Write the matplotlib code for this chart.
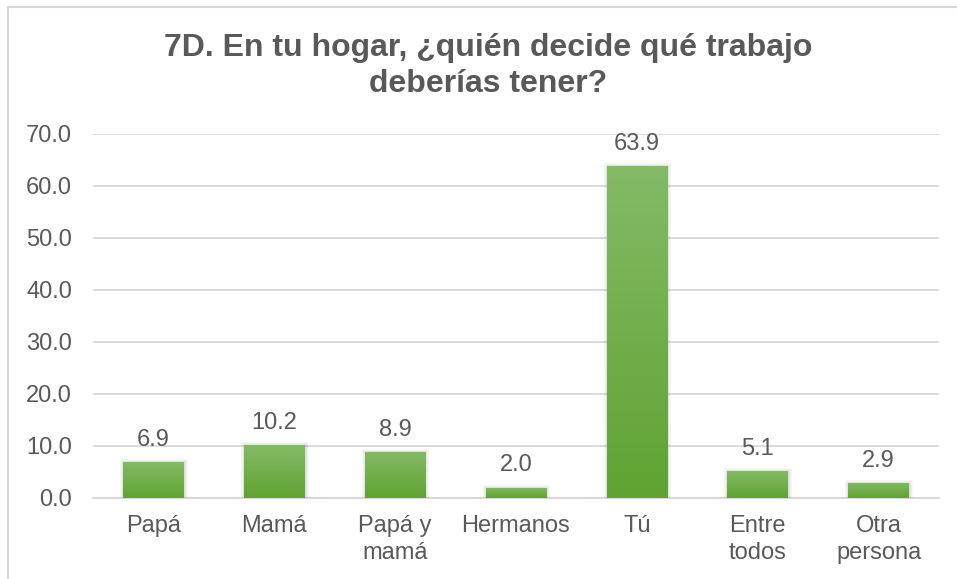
import matplotlib

matplotlib.use("Agg")
import matplotlib.pyplot as plt
import matplotlib.patheffects as pe
import numpy as np
from matplotlib.colors import LinearSegmentedColormap
from matplotlib.lines import Line2D

CATEGORIES = ["Papá", "Mamá", "Papá y\nmamá", "Hermanos", "Tú", "Entre\ntodos", "Otra\npersona"]
VALUES = [6.9, 10.2, 8.9, 2.0, 63.9, 5.1, 2.9]
Y_TICKS = [0, 10, 20, 30, 40, 50, 60, 70]
TITLE = "7D. En tu hogar, ¿quién decide qué trabajo\ndeberías tener?"

TEXT_COLOR = "#595959"
GRID_COLOR = "#D9D9D9"
BAR_TOP = "#84BA66"
BAR_BOTTOM = "#60A332"

plt.rcParams["font.family"] = ["Liberation Sans", "DejaVu Sans"]

fig = plt.figure(figsize=(9.57, 5.79), dpi=100)
ax = fig.add_axes([93 / 957, 1 - 498 / 579, (939 - 93) / 957, (498 - 134) / 579])

x = np.arange(len(CATEGORIES))
bars = ax.bar(x, VALUES, width=0.5, color=BAR_BOTTOM, zorder=2)

# vertical gradient fill clipped to each bar, plus a soft shadow
cmap = LinearSegmentedColormap.from_list("bar_grad", [BAR_BOTTOM, BAR_TOP])
grad = np.linspace(0, 1, 256).reshape(-1, 1)
for rect in bars:
    x0, w, h = rect.get_x(), rect.get_width(), rect.get_height()
    rect.set_path_effects(
        [
            pe.Stroke(linewidth=5, foreground="#000000", alpha=0.04),
            pe.Stroke(linewidth=2.5, foreground="#000000", alpha=0.07),
            pe.Normal(),
        ]
    )
    img = ax.imshow(
        grad,
        extent=(x0, x0 + w, 0, h),
        origin="lower",
        cmap=cmap,
        aspect="auto",
        zorder=3,
    )
    img.set_clip_path(rect)

for xi, val in zip(x, VALUES):
    ax.annotate(
        f"{val:.1f}",
        (xi, val),
        xytext=(0, 8),
        textcoords="offset points",
        ha="center",
        va="bottom",
        fontsize=17,
        color=TEXT_COLOR,
        zorder=4,
    )

ax.set_xlim(-0.5, len(CATEGORIES) - 0.5)
ax.set_ylim(0, 70)
ax.set_yticks(Y_TICKS)
ax.set_yticklabels([f"{t:.1f}" for t in Y_TICKS])
ax.set_xticks(x)
ax.set_xticklabels(CATEGORIES, linespacing=1.3)
ax.tick_params(axis="both", length=0, labelsize=17, labelcolor=TEXT_COLOR)
ax.tick_params(axis="x", pad=12)
ax.tick_params(axis="y", pad=15)

ax.grid(True, axis="y", color=GRID_COLOR, linewidth=1.3, zorder=0)
ax.set_axisbelow(True)
for side in ["top", "right", "left"]:
    ax.spines[side].set_visible(False)
ax.spines["bottom"].set_color(GRID_COLOR)
ax.spines["bottom"].set_linewidth(1.5)
ax.spines["bottom"].set_zorder(1)

fig.text(
    0.51,
    1 - 66 / 579,
    TITLE,
    ha="center",
    va="center",
    fontsize=23,
    fontweight="bold",
    color=TEXT_COLOR,
    linespacing=1.3,
)

# chart frame (top and left edges visible in the crop)
fig.add_artist(Line2D([8 / 957, 1.0], [1 - 7 / 579, 1 - 7 / 579], color=GRID_COLOR, linewidth=1.5))
fig.add_artist(Line2D([8 / 957, 8 / 957], [0.0, 1 - 7 / 579], color=GRID_COLOR, linewidth=1.5))

fig.savefig("out.png", dpi=100)
plt.close(fig)
